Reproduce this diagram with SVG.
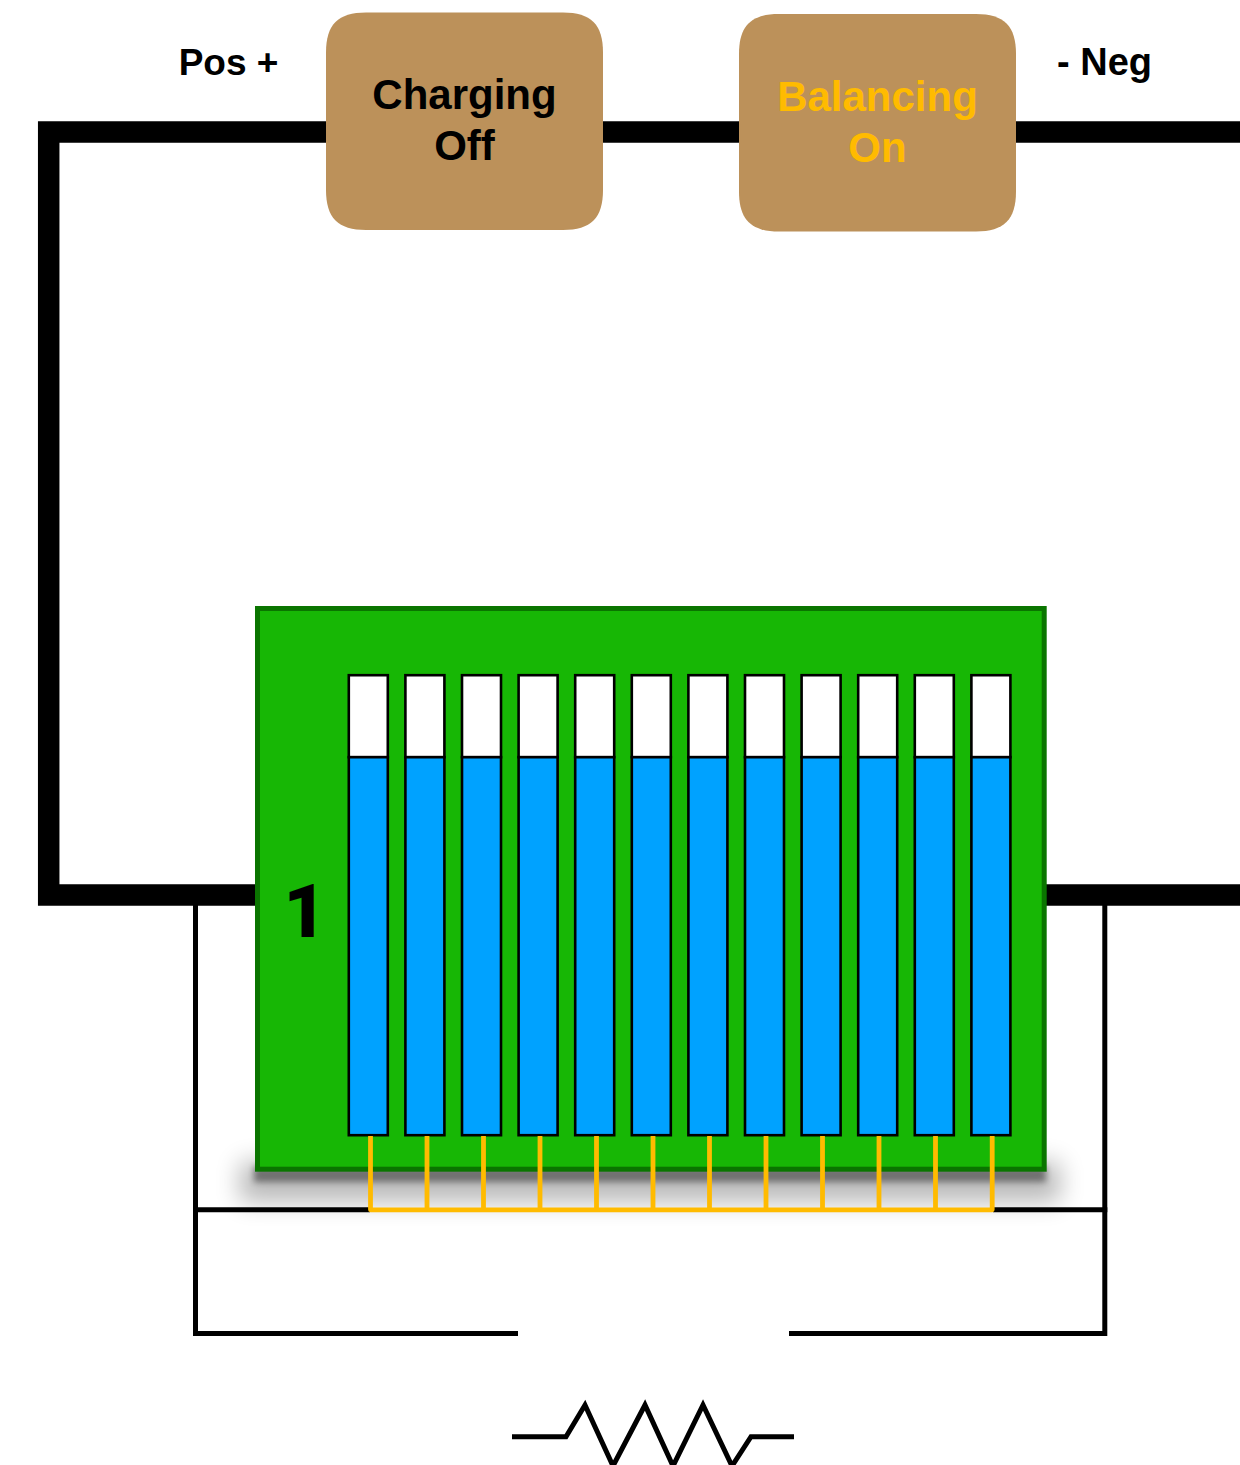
<svg xmlns="http://www.w3.org/2000/svg" width="1240" height="1465" viewBox="0 0 1240 1465">
<style>
.t{font-family:"Liberation Sans",Arial,sans-serif;font-weight:700;text-anchor:middle}
.lbl{font-size:37px;fill:#000}
.box{fill:#BC915A}
.boxt{font-size:42px}
.thick{fill:none;stroke:#000;stroke-width:21.5;stroke-linejoin:miter}
.thin{fill:none;stroke:#000;stroke-width:5}
.res{fill:none;stroke:#000;stroke-width:5;stroke-linejoin:miter}
.gold{fill:none;stroke:#FFBB00;stroke-width:4.8;stroke-linejoin:round}
.cell{stroke:#000;stroke-width:2.6}
.top{fill:#fff}
.fill{fill:#00A2FF}
</style>
<defs>
<filter id="s1" x="-10%" y="-100%" width="120%" height="300%"><feGaussianBlur stdDeviation="3"/></filter>
<filter id="s2" x="-10%" y="-100%" width="120%" height="300%"><feGaussianBlur stdDeviation="12"/></filter>
<path id="squircle" d="M40 0H237C265 0 277 12 277 40V177.500C277 205.500 265 217.500 237 217.500H40C12 217.500 0 205.500 0 177.500V40C0 12 12 0 40 0Z"/>
<g id="cell">
<rect class="cell top" x="348.8" y="675.2" width="39" height="82"/>
<rect class="cell fill" x="348.8" y="757.2" width="39" height="378"/>
</g>
</defs>
<rect width="1240" height="1465" fill="#fff"/>
<g id="shadow">
<rect x="240" y="1162" width="820" height="40" fill="#000" opacity=".27" filter="url(#s2)"/>
<rect x="254" y="1166" width="792" height="16" fill="#000" opacity=".42" filter="url(#s1)"/>
</g>
<g id="connectors">
<path class="thick" d="M327 132H48.700V895H256"/>
<path class="thick" d="M603 132H740"/>
<path class="thick" d="M1015 132H1240"/>
<path class="thick" d="M1046 895H1240"/>
<path class="thin" d="M195.500 905V1333.500H518"/>
<path class="thin" d="M789 1333.500H1104.800V905"/>
<path class="thin" d="M195.500 1209.800H370"/>
<path class="thin" d="M993 1209.800H1107.300"/>
</g>
<g id="charging"><use href="#squircle" class="box" x="326" y="12.500"/>
<text class="t boxt" x="464.500" y="109" fill="#000">Charging</text><text class="t boxt" x="464.500" y="160" fill="#000">Off</text></g>
<g id="balancing"><use href="#squircle" class="box" x="739" y="14"/>
<text class="t boxt" x="877.500" y="111" fill="#FFBB00">Balancing</text><text class="t boxt" x="877.500" y="162" fill="#FFBB00">On</text></g>
<g id="pos"><text class="t lbl" x="228.500" y="74.500">Pos +</text></g>
<g id="neg"><text class="t lbl" x="1104.500" y="74.500" style="font-size:38px">- Neg</text></g>
<g id="battery">
<rect x="257.500" y="608.500" width="786.700" height="560.700" fill="#17B705" stroke="#0A7500" stroke-width="5"/>
<text x="305" y="937" font-size="74" font-weight="900" text-anchor="middle" font-family="Roboto,'Liberation Sans',sans-serif" fill="#000">1</text>
<use href="#cell"/>
<use href="#cell" x="56.600"/>
<use href="#cell" x="113.200"/>
<use href="#cell" x="169.800"/>
<use href="#cell" x="226.400"/>
<use href="#cell" x="283"/>
<use href="#cell" x="339.600"/>
<use href="#cell" x="396.200"/>
<use href="#cell" x="452.800"/>
<use href="#cell" x="509.400"/>
<use href="#cell" x="566"/>
<use href="#cell" x="622.600"/>
</g>
<g id="balance-wires">
<path class="gold" d="M370.500 1136V1209.800H992.200V1136M427 1136V1209.800M483.500 1136V1209.800M540 1136V1209.800M596.500 1136V1209.800M653 1136V1209.800M709.500 1136V1209.800M766 1136V1209.800M822.500 1136V1209.800M879 1136V1209.800M935.500 1136V1209.800"/>
</g>
<g id="resistor">
<path class="res" d="M512 1436.700H566L585 1405L613 1466L645 1405L673 1466L703 1405L732 1466L751 1436.700H794"/>
</g>
</svg>
